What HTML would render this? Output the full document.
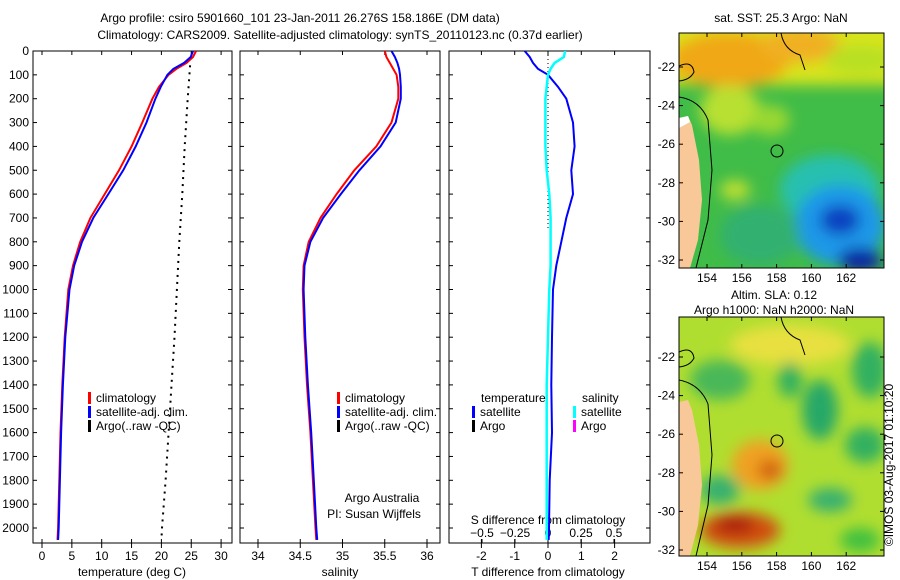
<!DOCTYPE html>
<html><head><meta charset="utf-8"><style>
body{margin:0;background:#fff;}
svg{display:block;font-family:"Liberation Sans",sans-serif;}
text{font-size:12px;fill:#000;}
</style></head><body>
<svg id="fig" width="900" height="580" viewBox="0 0 900 580">
<defs>
<filter id="bl" x="-30%" y="-30%" width="160%" height="160%"><feGaussianBlur stdDeviation="7"/></filter>
<clipPath id="c1"><rect x="679" y="33" width="205" height="235"/></clipPath>
<clipPath id="c2"><rect x="679" y="317" width="205" height="239"/></clipPath>
<clipPath id="p1"><rect x="33" y="51" width="199" height="492"/></clipPath>
<clipPath id="p2"><rect x="240" y="51" width="200" height="492"/></clipPath>
<clipPath id="p3"><rect x="449" y="51" width="201" height="492"/></clipPath>
</defs>
<text x="300" y="22" text-anchor="middle">Argo profile: csiro 5901660_101 23-Jan-2011 26.276S 158.186E (DM data)</text>
<text x="340" y="39" text-anchor="middle">Climatology: CARS2009. Satellite-adjusted climatology: synTS_20110123.nc (0.37d earlier)</text>
<g id="axes"></g>
<!-- map 1 -->
<g>
<text x="781" y="22" text-anchor="middle">sat. SST: 25.3 Argo: NaN</text>
<g clip-path="url(#c1)">
<rect x="679" y="33" width="205" height="235" fill="#40bc48"/>
<g filter="url(#bl)">
<rect x="660" y="20" width="250" height="65" fill="#d8e41a"/>
<ellipse cx="730" cy="60" rx="60" ry="28" fill="#f0a818"/>
<ellipse cx="800" cy="45" rx="40" ry="18" fill="#f0b020"/>
<ellipse cx="860" cy="60" rx="35" ry="15" fill="#b8e020"/>
<ellipse cx="730" cy="110" rx="30" ry="25" fill="#b8e030"/>
<ellipse cx="770" cy="120" rx="20" ry="15" fill="#9ad830"/>
<ellipse cx="830" cy="190" rx="50" ry="35" fill="#28c0b0"/>
<ellipse cx="840" cy="225" rx="45" ry="40" fill="#1a98e8"/>
<ellipse cx="840" cy="220" rx="20" ry="15" fill="#1040c0"/>
<ellipse cx="860" cy="260" rx="22" ry="12" fill="#0820a0"/>
<ellipse cx="760" cy="235" rx="40" ry="30" fill="#30b070"/>
<ellipse cx="735" cy="190" rx="15" ry="10" fill="#c0e030"/>
</g>
<path d="M679,118 L688,116 L692,125 L699,160 L702,200 L698,240 L690,268 L679,268 Z" fill="#f8c898"/>
<path d="M679,118 L688,116 L690,122 L679,128 Z" fill="#fff"/>
<path d="M679,97 Q700,100 708,120 L712,170 L708,220 L696,268" fill="none" stroke="#000" stroke-width="1"/>
<path d="M679,66 Q692,60 694,72 Q690,80 679,81" fill="none" stroke="#000"/>
<path d="M781,33 Q784,50 800,55 L805,70" fill="none" stroke="#000"/>
<circle cx="777" cy="151" r="6" fill="none" stroke="#000"/>
</g>
<rect x="679" y="33" width="205" height="235" fill="none" stroke="#000"/>
<g id="m1t"></g>
</g>
<!-- map 2 -->
<g>
<text x="774" y="299" text-anchor="middle">Altim. SLA: 0.12</text>
<text x="774" y="314" text-anchor="middle">Argo h1000: NaN h2000: NaN</text>
<g clip-path="url(#c2)">
<rect x="679" y="317" width="205" height="239" fill="#b0de30"/>
<g filter="url(#bl)">
<ellipse cx="790" cy="345" rx="60" ry="20" fill="#e8e040"/>
<ellipse cx="720" cy="380" rx="30" ry="20" fill="#48b858"/>
<ellipse cx="790" cy="380" rx="12" ry="18" fill="#30b060"/>
<ellipse cx="820" cy="410" rx="18" ry="30" fill="#28a868"/>
<ellipse cx="870" cy="370" rx="18" ry="28" fill="#30b060"/>
<ellipse cx="865" cy="445" rx="20" ry="18" fill="#30b060"/>
<ellipse cx="760" cy="465" rx="28" ry="25" fill="#f0a020"/>
<ellipse cx="770" cy="470" rx="12" ry="10" fill="#d06010"/>
<ellipse cx="740" cy="530" rx="40" ry="18" fill="#d05010"/>
<ellipse cx="735" cy="525" rx="20" ry="8" fill="#a81808"/>
<ellipse cx="720" cy="490" rx="20" ry="15" fill="#38b070"/>
<ellipse cx="830" cy="500" rx="22" ry="12" fill="#38b070"/>
<ellipse cx="860" cy="540" rx="20" ry="12" fill="#40c040"/>
</g>
<path d="M679,402 L688,400 L692,410 L699,445 L702,485 L698,525 L690,556 L679,556 Z" fill="#f8c898"/>
<path d="M679,380 Q700,384 708,404 L712,455 L708,505 L696,556" fill="none" stroke="#000"/>
<path d="M679,352 Q692,346 694,358 Q690,366 679,367" fill="none" stroke="#000"/>
<path d="M781,317 Q784,334 800,340 L805,355" fill="none" stroke="#000"/>
<circle cx="777" cy="441" r="6" fill="none" stroke="#000"/>
</g>
<rect x="679" y="317" width="205" height="239" fill="none" stroke="#000"/>
<g id="m2t"></g>
</g>
<text transform="translate(893,465) rotate(-90)" text-anchor="middle">©IMOS 03-Aug-2017 01:10:20</text>
</svg>
<script>
// ---- data ----
const depths = [0,25,50,75,100,150,200,300,400,500,600,700,800,900,1000,1200,1400,1600,1800,2000,2050];
const tempClim = [25.8,25.3,24.2,22.5,21.2,19.6,18.5,16.8,15.0,12.9,10.5,8.1,6.4,5.2,4.4,3.8,3.4,3.1,2.9,2.7,2.6];
const tempSat  = [25.3,24.9,23.8,22.0,21.0,19.9,19.0,17.5,15.7,13.6,11.1,8.6,6.7,5.4,4.6,3.9,3.5,3.2,3.0,2.8,2.7];
const argoDepths = [60,200,400,600,800,1000,1200,1400,1600,1800,2000,2050];
const tempArgo = [24.8,24.4,23.9,23.5,23.0,22.6,22.2,21.7,21.2,20.7,20.1,20.0];
const salClim = [35.50,35.52,35.56,35.60,35.64,35.66,35.66,35.58,35.40,35.14,34.93,34.74,34.60,34.54,34.53,34.55,34.58,34.62,34.65,34.68,34.69];
const salSat  = [35.58,35.62,35.65,35.67,35.68,35.69,35.69,35.63,35.45,35.20,34.98,34.77,34.62,34.55,34.54,34.56,34.59,34.63,34.66,34.69,34.70];
const tDiff = [-0.7,-0.55,-0.45,-0.3,0.0,0.3,0.55,0.75,0.8,0.7,0.75,0.55,0.4,0.25,0.15,0.12,0.1,0.12,0.05,0.03,0.02];
const sDiff = [0.13,0.12,0.05,0.02,0.0,-0.01,-0.02,-0.02,-0.02,-0.01,0.01,0.02,0.02,0.02,0.01,0.0,-0.01,-0.01,-0.01,-0.01,-0.01];
const depthTicks = [0,100,200,300,400,500,600,700,800,900,1000,1100,1200,1300,1400,1500,1600,1700,1800,1900,2000];
const tTicks = [0,5,10,15,20,25,30];
const sTicks = [34,34.5,35,35.5,36];
const dTTicks = [-2,-1,0,1,2];
const dSTicks = [-0.5,-0.25,0,0.25,0.5];
const latTicks = [-22,-24,-26,-28,-30,-32];
const lonTicks = [154,156,158,160,162];
// ---- scales ----
const NS='http://www.w3.org/2000/svg';
const yD = d => 51 + d*0.2385;
const xT = t => 42 + t*5.97;
const xS = s => 258 + (s-34)*84.5;
const xDT = v => 548 + v*33.3;
const xDS = v => 548 + v*132;
const yLat1 = l => 67 + (-22-l)*19.3;
const yLat2 = l => 357 + (-22-l)*19.3;
const xLon = l => 707 + (l-154)*17.4;
const g = document.getElementById('axes');
function el(tag, attrs, parent){const e=document.createElementNS(NS,tag);for(const k in attrs)e.setAttribute(k,attrs[k]);(parent||g).appendChild(e);return e;}
function txt(x,y,s,anchor,parent){const e=el('text',{x:x,y:y,'text-anchor':anchor||'middle'},parent);e.textContent=s;return e;}
function line(xs,ys,color,w,dash,clip){
  const d=xs.map((x,i)=>(i?'L':'M')+x.toFixed(1)+','+ys[i].toFixed(1)).join('');
  const p=el('path',{d:d,fill:'none',stroke:color,'stroke-width':w,'clip-path':clip});
  if(dash)p.setAttribute('stroke-dasharray',dash);return p;}
const panels=[{x:33,w:199,c:'url(#p1)'},{x:240,w:200,c:'url(#p2)'},{x:449,w:201,c:'url(#p3)'}];
panels.forEach((p,i)=>{
  const r=el('rect',{x:p.x,y:51,width:p.w,height:492,fill:'none',stroke:'#000'});
  
  
  depthTicks.forEach(d=>{el('line',{x1:p.x,x2:p.x+4,y1:yD(d),y2:yD(d),stroke:'#000'});el('line',{x1:p.x+p.w-4,x2:p.x+p.w,y1:yD(d),y2:yD(d),stroke:'#000'});});
});
depthTicks.forEach(d=>{const t=txt(29,yD(d)+4,String(d),'end');});
function xticks(arr,f,lab){arr.forEach(v=>{const x=f(v);el('line',{x1:x,x2:x,y1:543,y2:539,stroke:'#000'});el('line',{x1:x,x2:x,y1:51,y2:55,stroke:'#000'});el('line',{x1:x,x2:x,y1:543,y2:548,stroke:'#000'});const t=txt(x,560,lab?lab(v):String(v));});}
xticks(tTicks,xT);xticks(sTicks,xS);xticks(dTTicks,xDT);
dSTicks.forEach(v=>{const x=xDS(v);el('line',{x1:x,x2:x,y1:543,y2:539,stroke:'#000'});const t=txt(x,537,String(v).replace('-','\u2212'));});
let t;
t=txt(132,576,'temperature (deg C)');
t=txt(340,576,'salinity');
t=txt(548,576,'T difference from climatology');
t=txt(548,524,'S difference from climatology');
t=txt(382,502,'Argo Australia');
t=txt(374,518,'PI: Susan Wijffels');
// series
let s;
s=line(tempClim.map(xT),depths.map(yD),'#f00',2,null,'url(#p1)');
s=line(tempSat.map(xT),depths.map(yD),'#00f',2,null,'url(#p1)');
s=line(tempArgo.map(xT),argoDepths.map(yD),'#000',2,'2,5','url(#p1)');
s=line(salClim.map(xS),depths.map(yD),'#f00',2,null,'url(#p2)');
s=line(salSat.map(xS),depths.map(yD),'#00f',2,null,'url(#p2)');
s=line([548,548],[yD(0),yD(750)],'#000',1,'1,3','url(#p3)');
s=line(tDiff.map(xDT),depths.map(yD),'#00f',2,null,'url(#p3)');
s=line(sDiff.map(xDS),depths.map(yD),'#0ff',2.5,null,'url(#p3)');
// legends
function leg(x,y,c,label,name){el('rect',{x:x,y:y-10,width:3,height:12,fill:c});const t=txt(x+8,y,label,'start');}
leg(88,402,'#f00','climatology','legend-temp-climatology');
leg(88,416,'#00f','satellite-adj. clim.','legend-temp-satellite');
leg(88,430,'#000','Argo(..raw -QC)','legend-temp-argo');
leg(337,402,'#f00','climatology','legend-sal-climatology');
leg(337,416,'#00f','satellite-adj. clim.','legend-sal-satellite');
leg(337,430,'#000','Argo(..raw -QC)','legend-sal-argo');
t=txt(481,402,'temperature','start');
t=txt(582,402,'salinity','start');
leg(472,416,'#00f','satellite','legend-t-diff-satellite');
leg(472,430,'#000','Argo','legend-t-diff-argo');
leg(573,416,'#0ff','satellite','legend-s-diff-satellite');
leg(573,430,'#f0f','Argo','legend-s-diff-argo');
// map ticks
function mapTicks(gid,yl,top,bot){const p=document.getElementById(gid);
  latTicks.forEach(l=>{const y=yl(l);el('line',{x1:679,x2:683,y1:y,y2:y,stroke:'#000'},p);el('line',{x1:880,x2:884,y1:y,y2:y,stroke:'#000'},p);const t=txt(675,y+4,String(l),'end',p);});
  lonTicks.forEach(l=>{const x=xLon(l);el('line',{x1:x,x2:x,y1:bot,y2:bot-4,stroke:'#000'},p);el('line',{x1:x,x2:x,y1:top,y2:top+4,stroke:'#000'},p);const t=txt(x,bot+14,String(l),'middle',p);});}
mapTicks('m1t',yLat1,33,268);
mapTicks('m2t',yLat2,317,556);
</script>
</body></html>
